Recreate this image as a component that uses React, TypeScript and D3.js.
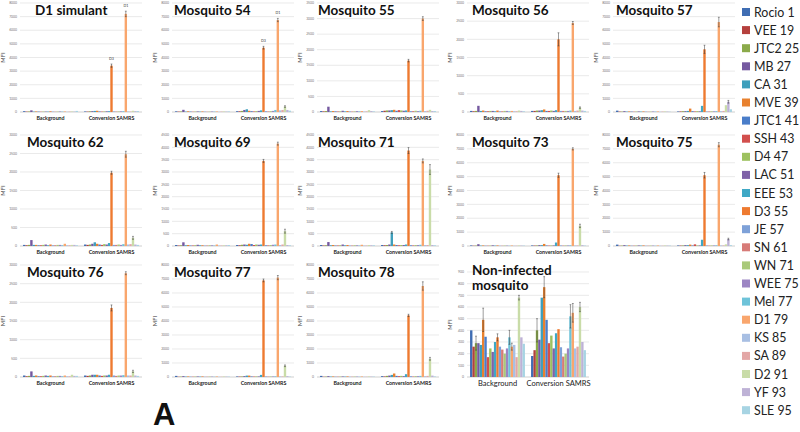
import React from "react";
import * as d3 from "d3";

const seriesNames = [
  "Rocio 1", "VEE 19", "JTC2 25", "MB 27", "CA 31", "MVE 39", "JTC1 41", "SSH 43",
  "D4 47", "LAC 51", "EEE 53", "D3 55", "JE 57", "SN 61", "WN 71", "WEE 75",
  "Mel 77", "D1 79", "KS 85", "SA 89", "D2 91", "YF 93", "SLE 95",
];
const seriesColors = [
  "#3F6DB3", "#B5403D", "#8BAA4A", "#7559A0", "#3E9FBC", "#E8812F", "#4A7DC9", "#D24F4D",
  "#9DC15F", "#7F62A8", "#3FA8C5", "#EE7A30", "#7EA1D8", "#D77B78", "#A9C97A", "#9C85C3",
  "#6EC3D9", "#F9A66D", "#A8BFE3", "#E3A7A6", "#C9DCA8", "#BEB2D6", "#A7D4E3",
];
const categories = ["Background", "Conversion SAMRS"];

const titles = [
  "D1 simulant", "Mosquito 54", "Mosquito 55", "Mosquito 56", "Mosquito 57",
  "Mosquito 62", "Mosquito 69", "Mosquito 71", "Mosquito 73", "Mosquito 75",
  "Mosquito 76", "Mosquito 77", "Mosquito 78", "Non-infected\nmosquito",
];
const yMaxes = [8000, 8000, 3500, 3000, 8000, 3000, 4500, 4500, 8000, 8000, 3000, 8000, 8000, 900];
const ySteps = [1000, 1000, 500, 500, 1000, 500, 500, 500, 1000, 1000, 500, 1000, 1000, 100];

// values per panel: Background group, Conversion SAMRS group (one value per series)
const bgD1Sim = [60, 30, 40, 120, 30, 40, 30, 20, 30, 30, 30, 50, 30, 20, 30, 40, 30, 40, 20, 30, 40, 30, 80];
const convD1Sim = [40, 30, 50, 60, 80, 90, 40, 30, 40, 50, 60, 3400, 40, 30, 40, 50, 60, 7200, 40, 30, 90, 60, 70];
const errD1Sim = { 11: 120, 17: 200 };

const bgM54 = [50, 30, 40, 160, 30, 50, 30, 20, 30, 40, 30, 40, 30, 20, 30, 40, 30, 40, 20, 30, 40, 30, 40];
const convM54 = [60, 50, 80, 150, 200, 90, 60, 40, 60, 80, 120, 4720, 60, 40, 60, 80, 150, 6750, 120, 150, 400, 150, 100];
const errM54 = { 11: 100, 17: 120, 20: 60 };

const bgM55 = [30, 20, 30, 170, 20, 30, 20, 15, 20, 40, 20, 30, 20, 15, 20, 30, 20, 30, 15, 20, 60, 30, 20];
const convM55 = [30, 40, 50, 50, 60, 70, 40, 60, 50, 40, 50, 1650, 30, 30, 40, 30, 40, 3000, 30, 40, 70, 30, 30];
const errM55 = { 11: 40, 17: 60 };

const bgM56 = [30, 20, 30, 170, 30, 40, 20, 20, 30, 30, 20, 40, 20, 20, 30, 30, 20, 30, 20, 20, 40, 30, 20];
const convM56 = [30, 30, 40, 40, 50, 70, 30, 30, 40, 30, 50, 2000, 30, 30, 30, 30, 40, 2450, 30, 40, 120, 40, 30];
const errM56 = { 11: 180, 17: 40, 20: 20 };

const bgM57 = [100, 30, 30, 60, 30, 40, 30, 20, 30, 40, 30, 40, 30, 20, 30, 40, 30, 40, 20, 30, 40, 30, 20];
const convM57 = [40, 40, 60, 60, 80, 250, 60, 40, 60, 50, 450, 4600, 40, 40, 50, 50, 60, 6600, 60, 80, 500, 750, 200];
const errM57 = { 11: 300, 17: 350, 21: 100 };

const bgM62 = [30, 20, 30, 160, 30, 30, 20, 20, 30, 40, 20, 40, 20, 20, 30, 30, 20, 60, 20, 20, 30, 30, 20];
const convM62 = [40, 30, 40, 60, 100, 60, 40, 30, 50, 40, 80, 1980, 30, 30, 40, 30, 50, 2480, 40, 50, 220, 40, 30];
const errM62 = { 11: 40, 17: 80, 20: 40 };

const bgM69 = [40, 20, 30, 150, 30, 40, 20, 20, 30, 50, 30, 30, 20, 20, 30, 30, 20, 60, 20, 20, 30, 30, 40];
const convM69 = [40, 30, 50, 60, 50, 90, 80, 40, 60, 50, 60, 3450, 40, 30, 40, 50, 60, 4150, 40, 60, 600, 40, 30];
const errM69 = { 11: 60, 17: 60, 20: 80 };

const bgM71 = [40, 20, 30, 160, 30, 40, 20, 20, 30, 60, 30, 40, 20, 20, 30, 30, 20, 50, 20, 20, 40, 30, 30];
const convM71 = [40, 30, 40, 60, 550, 60, 40, 30, 40, 40, 60, 3870, 40, 30, 40, 40, 50, 3450, 40, 40, 3100, 40, 30];
const errM71 = { 4: 40, 11: 120, 17: 80, 20: 200 };

const bgM73 = [40, 20, 30, 130, 30, 40, 20, 20, 30, 50, 30, 40, 20, 20, 30, 30, 20, 40, 20, 20, 40, 30, 30];
const convM73 = [40, 30, 40, 60, 60, 150, 40, 30, 40, 40, 250, 5100, 40, 30, 40, 40, 50, 7000, 40, 40, 1450, 60, 30];
const errM73 = { 11: 150, 17: 80, 20: 120 };

const bgM75 = [100, 20, 30, 60, 30, 40, 20, 20, 30, 40, 30, 40, 20, 20, 30, 30, 20, 40, 20, 20, 40, 30, 30];
const convM75 = [40, 30, 40, 60, 60, 100, 40, 120, 40, 40, 450, 5100, 40, 30, 40, 40, 50, 7300, 40, 40, 120, 500, 60];
const errM75 = { 11: 200, 17: 150, 21: 60 };

const bgM76 = [40, 20, 30, 150, 30, 40, 20, 20, 30, 40, 30, 40, 20, 20, 30, 30, 20, 40, 20, 20, 60, 30, 30];
const convM76 = [40, 30, 40, 60, 60, 60, 40, 30, 40, 40, 60, 1850, 40, 30, 40, 40, 50, 2780, 40, 40, 150, 40, 30];
const errM76 = { 11: 80, 17: 40, 20: 30 };

const bgM77 = [80, 20, 30, 60, 30, 40, 20, 20, 30, 40, 30, 40, 20, 20, 30, 30, 20, 40, 20, 20, 40, 30, 30];
const convM77 = [40, 30, 40, 60, 100, 100, 40, 30, 40, 40, 150, 6900, 40, 30, 40, 40, 50, 7100, 40, 40, 800, 60, 30];
const errM77 = { 11: 100, 17: 150, 20: 60 };

const bgM78 = [80, 20, 30, 60, 30, 40, 20, 20, 30, 40, 30, 40, 20, 20, 30, 30, 20, 40, 20, 20, 40, 30, 30];
const convM78 = [60, 40, 80, 100, 150, 250, 80, 60, 80, 60, 200, 4400, 60, 40, 60, 60, 80, 6500, 60, 80, 1300, 100, 40];
const errM78 = { 11: 80, 17: 300, 20: 100 };

const bgNonInf = [400, 260, 290, 290, 275, 490, 345, 170, 245, 215, 300, 340, 260, 235, 200, 245, 340, 260, 275, 170, 680, 340, 285];
const convNonInf = [180, 230, 400, 320, 680, 770, 490, 290, 355, 245, 375, 410, 255, 175, 200, 245, 520, 550, 245, 260, 600, 300, 230];
const errBgNonInf = { 2: 60, 5: 100, 11: 30, 16: 60, 17: 30, 20: 20 };
const errConvNonInf = { 2: 100, 5: 90, 16: 100, 17: 80, 20: 40 };

const panelBg = [bgD1Sim, bgM54, bgM55, bgM56, bgM57, bgM62, bgM69, bgM71, bgM73, bgM75, bgM76, bgM77, bgM78, bgNonInf];
const panelConv = [convD1Sim, convM54, convM55, convM56, convM57, convM62, convM69, convM71, convM73, convM75, convM76, convM77, convM78, convNonInf];
const panelErrBg: Record<number, number>[] = [{}, {}, {}, {}, {}, {}, {}, {}, {}, {}, {}, {}, {}, errBgNonInf];
const panelErrConv: Record<number, number>[] = [errD1Sim, errM54, errM55, errM56, errM57, errM62, errM69, errM71, errM73, errM75, errM76, errM77, errM78, errConvNonInf];
const annotated = [0, 1];

// layout
const colLeft = [20, 172, 317, 467, 613];
const rowTop = [3, 135, 265];
const rowBase = [112, 246, 377];
const plotW = 122;
const titleDx = [15, 2, 1, 5, 3];

const FONT = "Lato, 'Open Sans', 'DejaVu Sans', sans-serif";

function Panel({ i }: { i: number }) {
  const row = Math.floor(i / 5);
  const col = i % 5;
  const left = colLeft[col];
  const isNon = i === 13;
  const top = isNon ? 272 : rowTop[row];
  const base = rowBase[row];
  const max = yMaxes[i];
  const step = ySteps[i];
  const y = d3.scaleLinear().domain([0, max]).range([base, top]);
  const ticks = d3.range(0, max + step / 2, step);
  const x0 = d3.scaleBand().domain(categories).range([left, left + plotW]).paddingInner(0.1).paddingOuter(0.05);
  const x1 = d3.scaleBand().domain(seriesNames).range([0, x0.bandwidth()]);
  const groups = [panelBg[i], panelConv[i]];
  const errs = [panelErrBg[i], panelErrConv[i]];
  const titleLines = titles[i].split("\n");
  let tdx = titleDx[col];
  if (i === 5 || i === 10) tdx = 7;
  const titleY = isNon ? 275 : top + 12;

  return (
    <g>
      {ticks.map((t) => (
        <g key={t}>
          <line x1={left} x2={left + plotW} y1={y(t)} y2={y(t)} stroke={t === 0 ? "#b0b0b0" : "#dcdcdc"} strokeWidth={0.6} />
          <text x={left - 3} y={y(t) + 1.2} fontSize={3.4} fill="#777" textAnchor="end" fontFamily={FONT}>
            {t}
          </text>
        </g>
      ))}
      <text
        transform={`translate(${left - 15},${(top + base) / 2}) rotate(-90)`}
        fontSize={5.8}
        fill="#444"
        textAnchor="middle"
        fontFamily={FONT}
      >
        MFI
      </text>
      {groups.map((vals, g) =>
        vals.map((v, s) => {
          const bx = (x0(categories[g]) as number) + (x1(seriesNames[s]) as number);
          const bw = x1.bandwidth();
          return (
            <rect key={`${g}-${s}`} x={bx} y={y(v)} width={bw} height={base - y(v)} fill={seriesColors[s]} />
          );
        })
      )}
      {groups.map((vals, g) =>
        Object.entries(errs[g]).map(([k, e]) => {
          const s = +k;
          const v = vals[s];
          const cx = (x0(categories[g]) as number) + (x1(seriesNames[s]) as number) + x1.bandwidth() / 2;
          return (
            <g key={`e${g}-${s}`} stroke="#3a3a3a" strokeWidth={0.5}>
              <line x1={cx} x2={cx} y1={y(v - e)} y2={y(v + e)} />
              <line x1={cx - 0.9} x2={cx + 0.9} y1={y(v + e)} y2={y(v + e)} />
              <line x1={cx - 0.9} x2={cx + 0.9} y1={y(v - e)} y2={y(v - e)} />
            </g>
          );
        })
      )}
      {annotated.includes(i) &&
        [11, 17].map((s) => {
          const v = panelConv[i][s];
          const e = panelErrConv[i][s] || 0;
          const cx = (x0(categories[1]) as number) + (x1(seriesNames[s]) as number) + x1.bandwidth() / 2;
          return (
            <text key={`a${s}`} x={cx} y={y(v + e) - 4} fontSize={3.6} fill="#333" textAnchor="middle" fontFamily={FONT}>
              {seriesNames[s].split(" ")[0]}
            </text>
          );
        })}
      {categories.map((c) => (
        <text
          key={c}
          x={(x0(c) as number) + x0.bandwidth() / 2}
          y={base + (isNon ? 9 : 7.5)}
          fontSize={isNon ? 7.5 : 5.3}
          fontWeight={isNon ? 400 : 700}
          fill="#222"
          textAnchor="middle"
          fontFamily={FONT}
        >
          {c}
        </text>
      ))}
      <text x={left + tdx} y={titleY} fontSize={13.5} fontWeight={700} fill="#111" fontFamily={FONT}>
        {titleLines.map((ln, k) => (
          <tspan key={k} x={left + tdx} dy={k === 0 ? 0 : 15}>
            {ln}
          </tspan>
        ))}
      </text>
    </g>
  );
}

export default function App() {
  const legendY = d3.scaleLinear().domain([0, seriesNames.length - 1]).range([12, 12 + 18.1 * 22]);
  return (
    <svg
      width={800}
      height={432}
      style={{ position: "fixed", left: 0, top: 0, background: "#fff" }}
      fontFamily={FONT}
    >
      <rect width={800} height={432} fill="#fff" />
      {titles.map((_, i) => (
        <Panel key={i} i={i} />
      ))}
      {seriesNames.map((n, i) => (
        <g key={n}>
          <rect x={742} y={legendY(i) - 4} width={8} height={8} fill={seriesColors[i]} />
          <text x={754} y={legendY(i) + 4.5} fontSize={12.4} fill="#222" fontFamily={FONT}>
            {n}
          </text>
        </g>
      ))}
      <text x={153} y={425} fontSize={31} fontWeight={700} fill="#111" fontFamily="Arial, 'Liberation Sans', sans-serif">
        A
      </text>
    </svg>
  );
}
